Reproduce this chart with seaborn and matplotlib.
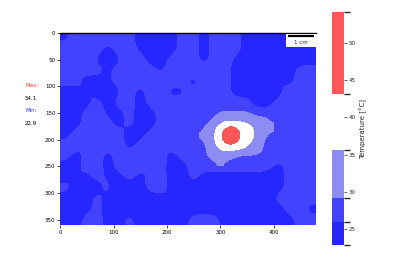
import numpy as np
import matplotlib
matplotlib.use("Agg")
import matplotlib.pyplot as plt
from matplotlib.colors import ListedColormap, BoundaryNorm
from matplotlib.patches import Rectangle
import seaborn as sns

# ---- data (temperatures in °C) ----
t_min = 22.9
t_max = 54.1
band_edges = [22.9, 26.0, 29.2, 35.6, 43.2, 54.1]
band_colors = ["#2626ff", "#4242ff", "#8c8cf2", "#ffffff", "#ff5757"]
cbar_ticks = [25, 30, 35, 40, 45, 50]
x_ticks = [0, 100, 200, 300, 400]
y_ticks = [0, 50, 100, 150, 200, 250, 300, 350]
img_w, img_h = 480, 360

# coarse background field, 20 px cells (18 rows x 24 cols)
background = [
    [25, 28, 28, 28, 28, 28, 28, 24, 25, 24, 24, 28, 28, 24, 28, 28, 28, 24, 24, 24, 24, 24, 24, 24],
    [28, 28, 28, 28, 24, 28, 28, 25, 25, 24, 24, 28, 28, 24, 28, 28, 28, 24, 24, 24, 24, 24, 24, 24],
    [28, 28, 28, 25, 24, 25, 28, 28, 24, 24, 28, 28, 28, 24, 28, 28, 25, 24, 28, 24, 24, 24, 24, 24],
    [28, 25, 28, 28, 25, 28, 28, 28, 28, 25, 28, 25, 28, 28, 28, 28, 24, 24, 24, 24, 24, 24, 28, 28],
    [28, 28, 24, 24, 25, 28, 28, 28, 28, 28, 28, 28, 24, 28, 28, 28, 24, 24, 24, 24, 28, 24, 28, 28],
    [24, 24, 28, 24, 24, 25, 28, 24, 28, 28, 24, 25, 28, 24, 28, 28, 24, 24, 24, 24, 24, 28, 28, 28],
    [24, 24, 24, 28, 24, 28, 28, 24, 28, 28, 28, 28, 28, 28, 24, 28, 28, 28, 24, 24, 28, 28, 28, 28],
    [24, 24, 28, 28, 25, 24, 28, 24, 24, 28, 28, 24, 28, 28, 28, 28, 28, 28, 28, 28, 28, 28, 28, 28],
    [24, 24, 28, 28, 28, 24, 28, 24, 24, 28, 28, 28, 28, 28, 28, 28, 28, 28, 28, 28, 28, 28, 28, 28],
    [24, 28, 28, 25, 28, 28, 24, 24, 28, 28, 28, 28, 25, 28, 28, 28, 28, 28, 28, 28, 28, 28, 28, 28],
    [28, 28, 24, 28, 28, 28, 24, 28, 28, 25, 28, 28, 28, 28, 28, 28, 28, 28, 28, 28, 28, 28, 28, 28],
    [28, 24, 28, 28, 24, 28, 28, 28, 28, 28, 24, 28, 28, 28, 28, 28, 28, 28, 28, 28, 28, 28, 24, 28],
    [24, 24, 28, 28, 24, 28, 28, 28, 24, 28, 24, 24, 28, 28, 28, 28, 28, 28, 28, 28, 24, 28, 28, 28],
    [24, 28, 24, 28, 25, 24, 28, 24, 28, 28, 24, 24, 28, 24, 24, 24, 24, 24, 24, 24, 24, 28, 24, 28],
    [28, 24, 24, 24, 28, 24, 24, 24, 28, 28, 24, 24, 24, 24, 24, 24, 24, 24, 24, 24, 24, 28, 28, 28],
    [24, 24, 24, 28, 24, 24, 28, 24, 24, 24, 28, 24, 24, 24, 24, 24, 24, 24, 24, 24, 28, 28, 28, 28],
    [24, 24, 24, 28, 24, 24, 24, 24, 24, 24, 24, 24, 24, 24, 24, 24, 24, 24, 24, 24, 24, 28, 28, 24],
    [24, 24, 28, 28, 24, 24, 28, 24, 24, 24, 24, 24, 28, 28, 28, 24, 24, 24, 24, 24, 24, 24, 28, 28],
]

# finer field around the hot spot, 10 px cells, x 260..400, y 140..250
hotspot = [
    [28.0, 28.0, 28.0, 28.0, 28.5, 28.5, 28.5, 28.5, 28.5, 28.0, 28.0, 28.0, 28.0, 28.0],
    [28.0, 28.0, 28.5, 29.5, 31.0, 31.0, 31.0, 31.0, 31.0, 30.0, 29.0, 28.5, 28.5, 28.0],
    [28.0, 28.5, 29.5, 31.5, 34.5, 34.5, 34.5, 34.5, 34.0, 32.0, 31.0, 31.0, 30.0, 29.0],
    [28.5, 29.5, 31.5, 36.0, 38.5, 43.0, 43.0, 40.0, 39.0, 37.5, 33.0, 32.0, 31.0, 29.5],
    [29.0, 31.0, 33.0, 39.0, 44.0, 49.5, 49.0, 43.3, 40.0, 39.0, 35.0, 32.0, 31.0, 29.5],
    [29.5, 31.0, 34.0, 38.5, 46.0, 52.0, 51.5, 44.5, 40.0, 38.5, 35.0, 32.0, 29.5, 28.0],
    [28.5, 30.5, 34.0, 38.0, 43.0, 47.0, 46.5, 42.0, 39.0, 37.0, 33.0, 30.5, 28.5, 28.0],
    [28.0, 29.5, 32.0, 36.0, 39.0, 40.0, 40.0, 39.0, 37.0, 34.0, 31.5, 30.0, 28.5, 28.0],
    [27.5, 29.5, 32.0, 33.0, 34.0, 34.0, 33.0, 32.0, 31.5, 31.0, 30.0, 29.5, 28.0, 27.5],
    [27.5, 28.5, 30.5, 31.5, 31.5, 30.5, 29.5, 28.0, 28.0, 28.0, 28.0, 28.0, 27.5, 27.5],
    [26.5, 27.0, 28.0, 29.5, 29.5, 28.0, 27.0, 26.5, 26.5, 26.5, 26.5, 26.5, 26.5, 27.0],
]
hot_extent = (260, 400, 250, 140)

label_max = "Max:"
label_min = "Min:"
scale_text = "1 cm"
cbar_label = "Temperature [°C]"

# ---- drawing ----
sns.set_theme(style="white")
plt.rcParams["font.family"] = ["DejaVu Sans"]

pal = sns.color_palette(band_colors)
cmap = ListedColormap(pal)
cmap.set_under(band_colors[0])
cmap.set_over(band_colors[-1])
norm = BoundaryNorm(band_edges, cmap.N)

fig = plt.figure(figsize=(4.0, 2.58), dpi=100)
ax = fig.add_axes([0.151, 0.128, 0.64, 0.744])
cax = fig.add_axes([0.83, 0.050, 0.03, 0.903])

im = ax.imshow(np.array(background, dtype=float), cmap=cmap, norm=norm,
               extent=(0, img_w, img_h, 0), interpolation="bicubic",
               interpolation_stage="data")
ax.imshow(np.array(hotspot, dtype=float), cmap=cmap, norm=norm,
          extent=hot_extent, interpolation="bicubic",
          interpolation_stage="data")
ax.set_xlim(0, img_w)
ax.set_ylim(img_h, 0)
ax.set_xticks(x_ticks)
ax.set_yticks(y_ticks)
ax.xaxis.set_ticks_position("bottom")
ax.yaxis.set_ticks_position("left")
ax.tick_params(bottom=True, left=True, top=False, labeltop=False,
               labelbottom=True, length=2, width=0.5, labelsize=4,
               pad=1.5, colors="black")
for side in ["left", "right", "bottom"]:
    ax.spines[side].set_visible(False)
ax.spines["top"].set_visible(True)
ax.spines["top"].set_color("black")
ax.spines["top"].set_linewidth(1.0)

# scale bar box
ax.add_patch(Rectangle((423, 1.5), 57, 24.5, facecolor="white",
                       edgecolor="none", zorder=3))
ax.plot([427, 476], [4.7, 4.7], color="black", lw=1.6, zorder=4,
        solid_capstyle="butt")
ax.text(451, 17, scale_text, ha="center", va="center", fontsize=4,
        color="#202060", zorder=4)

# colorbar
cb = fig.colorbar(im, cax=cax, ticks=cbar_ticks, spacing="proportional")
cb.outline.set_visible(False)
cax.tick_params(length=2, width=0.5, labelsize=4, pad=1.5, right=True)
cb.set_label(cbar_label, fontsize=5, labelpad=3)

# min / max annotation
fig.text(0.0625, 0.67, label_max, color="#ff3b3b", fontsize=4, va="center")
fig.text(0.0625, 0.62, f"{t_max:.1f}", color="black", fontsize=4, va="center")
fig.text(0.0625, 0.57, label_min, color="#3030ff", fontsize=4, va="center")
fig.text(0.0625, 0.52, f"{t_min:.1f}", color="black", fontsize=4, va="center")

fig.savefig("out.png", dpi=100)
